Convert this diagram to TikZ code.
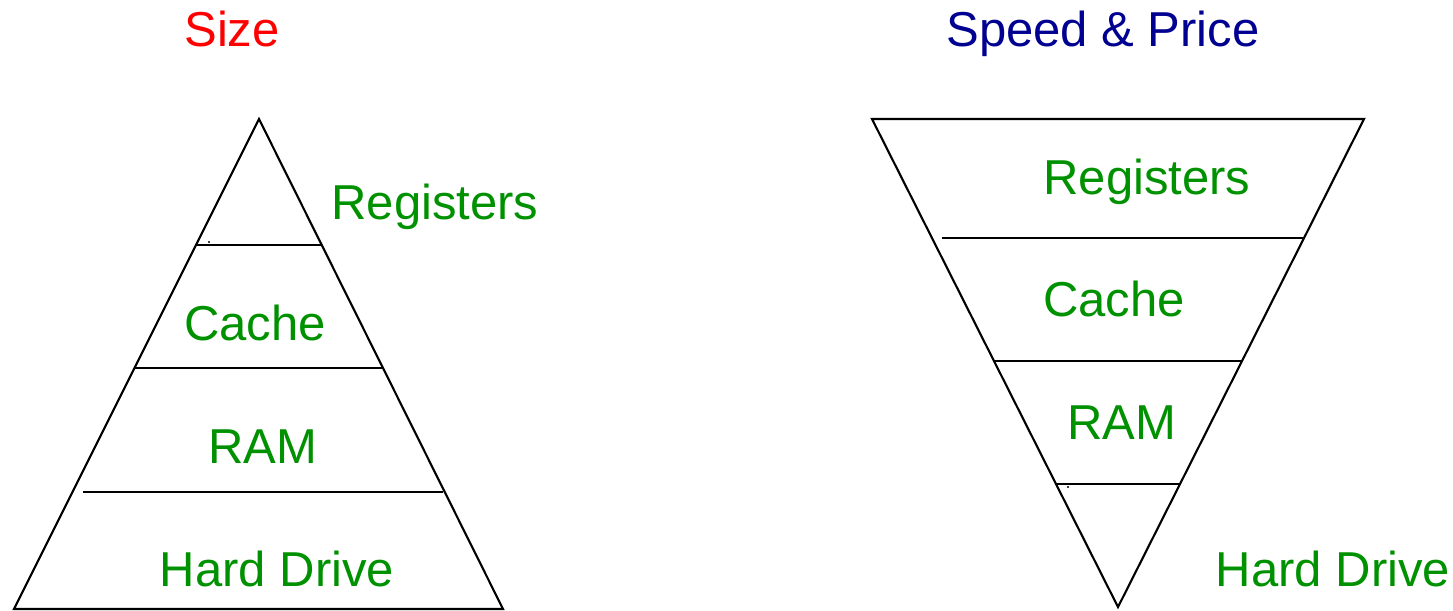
\documentclass[tikz,border=0pt]{standalone}
\usepackage{fontspec}
\setmainfont{Liberation Sans}
\definecolor{sizered}{RGB}{255,0,0}
\definecolor{speedblue}{RGB}{0,0,145}
\definecolor{levelgreen}{RGB}{0,145,0}
\begin{document}
\begin{tikzpicture}[x=0.02cm, y=-0.02cm, line width=1.2pt,
  every node/.style={font=\fontsize{27.9}{32}\selectfont, inner sep=0pt, anchor=base},
  title/.style={},
  level/.style={text=levelgreen}]
\useasboundingbox (0,0) rectangle (1453,610);
% size pyramid
\coordinate (pa) at (259,119);
\coordinate (pl) at (14,609);
\coordinate (pr) at (503,609);
\draw (pl) -- (pa) -- (pr) -- cycle;
\coordinate (p1l) at (196,245); \coordinate (p1r) at (322,245);
\coordinate (p2l) at (135,368); \coordinate (p2r) at (383,368);
\coordinate (p3l) at (83,492);  \coordinate (p3r) at (443,492);
\draw (p1l) -- (p1r);
\draw (p2l) -- (p2r);
\draw (p3l) -- (p3r);
\fill (209,242) circle (0.6pt);
\node[title,text=sizered] (size) at (232,46) {Size};
\node[level] (pregs) at (435,219) {Registers};
\node[level] (pcache) at (255,340) {Cache};
\node[level] (pram) at (263,463) {RAM};
\node[level] (phdd) at (277,586) {Hard Drive};
% speed & price pyramid
\coordinate (ql) at (872,119);
\coordinate (qr) at (1364,119);
\coordinate (qa) at (1118,607);
\draw (ql) -- (qr) -- (qa) -- cycle;
\coordinate (q1l) at (942,238);  \coordinate (q1r) at (1304,238);
\coordinate (q2l) at (993,361);  \coordinate (q2r) at (1242,361);
\coordinate (q3l) at (1056,484); \coordinate (q3r) at (1181,484);
\draw (q1l) -- (q1r);
\draw (q2l) -- (q2r);
\draw (q3l) -- (q3r);
\fill (1068,487) circle (0.6pt);
\node[title,text=speedblue] (speed) at (1103,46) {Speed \& Price};
\node[level] (qregs) at (1147,194) {Registers};
\node[level] (qcache) at (1114,316) {Cache};
\node[level] (qram) at (1122,439) {RAM};
\node[level] (qhdd) at (1333,586) {Hard Drive};
\end{tikzpicture}
\end{document}
